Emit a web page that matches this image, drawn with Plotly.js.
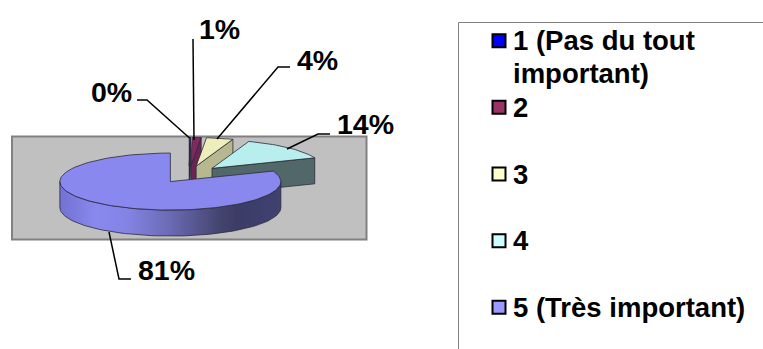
<!DOCTYPE html>
<html>
<head>
<meta charset="utf-8">
<script src="https://cdn.plot.ly/plotly-3.0.1.min.js"></script>
<style>html,body{margin:0;padding:0;background:#fff}</style>
</head>
<body>
<div id="chart" style="width:763px;height:349px"></div>
<script>
// Survey answers on a 1-5 importance scale, in percent
const categories = ["1 (Pas du tout<br>important)", "2", "3", "4", "5 (Très important)"];
const values = [0.2, 1.3, 3.9, 13.6, 81.0];
const topColors = ["#0000EE", "#7F2A5E", "#EEEEBB", "#B8EEEE", "#8888EE"];
const sideColors = ["#000060", "#6E2452", "#B8B890", "#526868", "#8888EE"];
const swatchColors = ["#0000FF", "#993366", "#FFFFCC", "#CCFFFF", "#9999FF"];

// Page geometry: pie radius in pixels, pie centre, tilt of the disc, depth, explosion
const W = 763, H = 349, R = 110.5, CX = 189, CY = 174.5;
const TILT = 0.258, DEPTH = 0.235, EXPLODE = 0.3;
const px = v => (v - CX) / R;
const py = v => (CY - v) / R;
const rad = d => d * Math.PI / 180;

const OUTLINE = {color: "#2a2a3a", width: 0.8};
const total = values.reduce((a, b) => a + b, 0);
const traces = [];

function polygon(xs, ys, color, extra) {
  traces.push(Object.assign({
    type: "scatter", mode: "lines", x: xs.concat(xs[0]), y: ys.concat(ys[0]),
    fill: "toself", fillcolor: color, line: OUTLINE, hoverinfo: "skip", showlegend: false
  }, extra || {}));
}

// Each slice: the visible walls first, then its top face
let start = 0;
values.forEach((v, i) => {
  const a0 = start, a1 = start + v / total * 360;
  start = a1;
  const mid = rad((a0 + a1) / 2);
  const ox = EXPLODE * Math.sin(mid), oy = EXPLODE * Math.cos(mid) * TILT;
  const rim = a => [ox + Math.sin(rad(a)), oy + Math.cos(rad(a)) * TILT];

  if (a1 < 180) {
    const p = rim(a1);
    polygon([ox, p[0], p[0], ox], [oy, p[1], p[1] - DEPTH, oy - DEPTH], sideColors[i]);
  }
  const w0 = Math.max(a0, 90), w1 = Math.min(a1, 270);
  if (w1 > w0) {
    const xs = [], ys = [], xb = [], yb = [];
    for (let a = w0; a <= w1 + 1e-6; a += (w1 - w0) / 90) {
      const p = rim(a);
      xs.push(p[0]); ys.push(p[1]);
      xb.unshift(p[0]); yb.unshift(p[1] - DEPTH);
    }
    polygon(xs.concat(xb), ys.concat(yb), sideColors[i], {
      fillgradient: {
        type: "horizontal",
        start: ox - 1, stop: ox + 1,
        colorscale: [[0, "#7272D2"], [0.16, "#8888EE"], [0.3, "#8484E6"], [0.5, "#6A6AB4"],
                     [0.72, "#45456F"], [0.8, "#3C3C66"], [1, "#414172"]]
      }
    });
  }
  const xt = [ox], yt = [oy];
  const n = Math.max(2, Math.ceil((a1 - a0) / 2));
  for (let k = 0; k <= n; k++) {
    const p = rim(a0 + (a1 - a0) * k / n);
    xt.push(p[0]); yt.push(p[1]);
  }
  polygon(xt, yt, topColors[i]);
});

// Legend swatches
const swatchY = [40.7, 107.3, 174, 240.7, 307.3];
traces.push({
  type: "scatter", mode: "markers", x: swatchY.map(() => px(499)), y: swatchY.map(py),
  marker: {symbol: "square", size: 13, color: swatchColors, line: {color: "#000", width: 2}},
  hoverinfo: "skip", showlegend: false
});

const FONT = "Liberation Sans";
const annotations = [];
function label(text, x, y, anchor, size) {
  annotations.push({
    text: "<b>" + text + "</b>", x: px(x), y: py(y), xref: "x", yref: "y",
    xanchor: anchor, yanchor: "middle", showarrow: false,
    font: {family: FONT, size: size, color: "#000"}
  });
}

// Legend text, one annotation per line so the leading stays tight
const LINE_STEP = 33;
categories.forEach((c, i) => {
  c.split("<br>").forEach((line, k) => label(line, 511, swatchY[i] + k * LINE_STEP, "left", 27.5));
});

// Percentage labels with their leader lines
const labelPos = [[111, 92], [219.5, 29], [317, 60], [365, 124], [166, 270]];
values.forEach((v, i) => label(Math.round(v) + "%", labelPos[i][0], labelPos[i][1], "center", 28.5));

const leaders = [
  [[137, 100], [147, 100], [189.5, 138]],
  [[193, 39], [194, 140]],
  [[290, 67], [278, 67], [217, 139]],
  [[330, 134], [318, 134], [287, 149]],
  [[131, 279], [119, 279], [109, 232]]
];

const toPath = pts => pts.map((p, k) => (k ? "L" : "M") + px(p[0]) + " " + py(p[1])).join(" ");
const shapes = [
  // grey back wall of the plot
  {type: "rect", layer: "below", xref: "x", yref: "y", x0: px(12), x1: px(366.5), y0: py(136.5), y1: py(239.5),
   fillcolor: "#C0C0C0", line: {color: "#808080", width: 2}},
  // legend frame, running off the page on two sides
  {type: "path", xref: "x", yref: "y", path: toPath([[W + 2, 22.5], [458.5, 22.5], [458.5, H + 2]]),
   line: {color: "#808080", width: 1}}
].concat(leaders.map(p => ({
  type: "path", xref: "x", yref: "y", path: toPath(p), line: {color: "#000", width: 1.5}
})));

Plotly.newPlot("chart", traces, {
  width: W, height: H, autosize: false,
  margin: {l: 0, r: 0, t: 0, b: 0, pad: 0},
  paper_bgcolor: "#fff", plot_bgcolor: "rgba(0,0,0,0)",
  showlegend: false,
  xaxis: {range: [px(0), px(W)], visible: false, fixedrange: true},
  yaxis: {range: [py(H), py(0)], visible: false, fixedrange: true},
  shapes: shapes, annotations: annotations
}, {displayModeBar: false, staticPlot: true});
</script>
</body>
</html>
